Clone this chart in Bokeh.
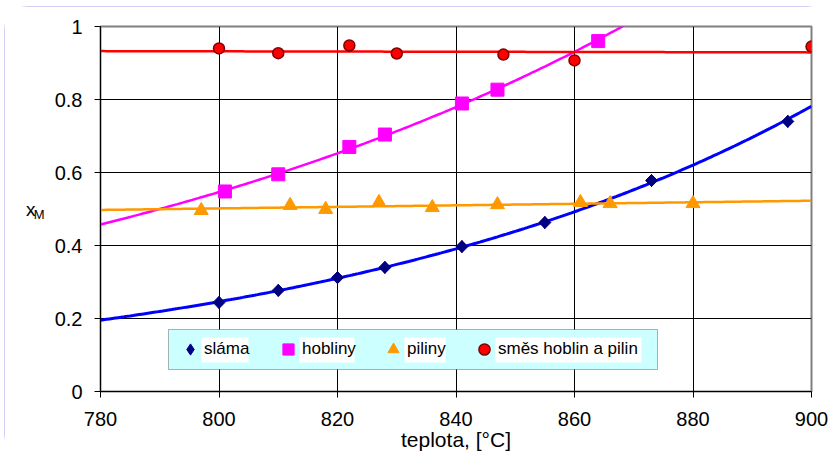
import numpy as np
from bokeh.plotting import figure
from bokeh.models import (Range1d, FixedTicker, Legend, LegendItem, BoxAnnotation,
                          LinearAxis)
from bokeh.embed import file_html
from bokeh.resources import INLINE

# ---------------- data ----------------
x_ticks = [780, 800, 820, 840, 860, 880, 900]
y_ticks = [0, 0.2, 0.4, 0.6, 0.8, 1]
y_tick_labels = ["0", "0.2", "0.4", "0.6", "0.8", "1"]

series_names = ["sláma", "hobliny", "piliny", "směs hoblin a pilin"]

slama_x = [800, 810, 820, 828, 841, 855, 873, 896]
slama_y = [0.244, 0.277, 0.312, 0.340, 0.397, 0.463, 0.578, 0.740]

hobliny_x = [801, 810, 822, 828, 841, 847, 864]
hobliny_y = [0.548, 0.595, 0.670, 0.704, 0.789, 0.827, 0.960]

piliny_x = [797, 812, 818, 827, 836, 847, 861, 866, 880]
piliny_y = [0.496, 0.510, 0.499, 0.518, 0.504, 0.512, 0.518, 0.515, 0.515]

smes_x = [800, 810, 822, 830, 848, 860, 900]
smes_y = [0.940, 0.927, 0.948, 0.926, 0.923, 0.907, 0.945]

x_label = "teplota, [°C]"
y_label_main = "x"
y_label_sub = "M"

FONT = "Liberation Sans"

# ---------------- trendlines (fitted from the data) ----------------
xs = np.linspace(x_ticks[0], x_ticks[-1], 241)


def exp_fit(x, y):
    b, a = np.polyfit(x, np.log(y), 1)
    return np.exp(a + b * xs)


def lin_fit(x, y):
    b, a = np.polyfit(x, y, 1)
    return a + b * xs


slama_fit = exp_fit(slama_x, slama_y)
hobliny_fit = exp_fit(hobliny_x, hobliny_y)
piliny_fit = lin_fit(piliny_x, piliny_y)
smes_fit = lin_fit(smes_x, smes_y)

# ---------------- figure ----------------
p = figure(width=826, height=451,
           x_range=Range1d(780, 900), y_range=Range1d(0, 1),
           output_backend="svg", toolbar_location=None,
           min_border_left=96, min_border_right=19,
           min_border_top=20, min_border_bottom=66)
p.styles = {"position": "absolute", "left": "4px", "top": "6px",
            "outline": "2px solid #bfbff2", "outline-offset": "-2px",
            "border-radius": "24px"}
p.background_fill_color = "white"
p.border_fill_color = "white"
p.outline_line_color = "#808080"
p.outline_line_width = 2

p.xaxis.ticker = FixedTicker(ticks=x_ticks)
p.yaxis.ticker = FixedTicker(ticks=y_ticks)
p.yaxis.major_label_overrides = dict(zip(y_ticks, y_tick_labels))

for ax in (p.xaxis, p.yaxis):
    ax.axis_line_color = "black"
    ax.axis_line_width = 1
    ax.major_tick_line_color = "black"
    ax.major_tick_out = 6
    ax.major_tick_in = 0
    ax.minor_tick_line_color = None
    ax.major_label_text_font = FONT
    ax.major_label_text_font_size = "20px"
    ax.major_label_text_color = "black"
p.yaxis.major_label_standoff = 12
p.xaxis.major_label_standoff = 14

p.xaxis.axis_label = x_label
p.xaxis.axis_label_text_font = FONT
p.xaxis.axis_label_text_font_size = "21px"
p.xaxis.axis_label_text_font_style = "normal"
p.xaxis.axis_label_text_color = "black"
p.xaxis.axis_label_standoff = -1

# y title "x" with subscript "M": subscript on the main axis, "x" on an outer axis
p.yaxis.axis_label = "\n" + y_label_sub
p.yaxis.axis_label_orientation = "horizontal"
p.yaxis.axis_label_text_font = FONT
p.yaxis.axis_label_text_font_size = "13px"
p.yaxis.axis_label_text_font_style = "normal"
p.yaxis.axis_label_text_color = "black"
p.yaxis.axis_label_text_line_height = 0.7
p.yaxis.axis_label_standoff = 7

outer = LinearAxis(ticker=FixedTicker(ticks=[]), axis_line_color=None,
                   major_tick_out=0, major_tick_in=0, major_label_standoff=0,
                   minor_tick_line_color=None, major_tick_line_color=None,
                   axis_label=y_label_main, axis_label_orientation="horizontal",
                   axis_label_text_font=FONT, axis_label_text_font_size="19px",
                   axis_label_text_font_style="normal",
                   axis_label_text_color="black", axis_label_standoff=-5)
p.add_layout(outer, "left")

p.grid.grid_line_color = "black"
p.grid.grid_line_width = 1

# trendlines
p.line(xs, slama_fit, line_color="#0000ff", line_width=3)
p.line(xs, hobliny_fit, line_color="#ff00ff", line_width=2.5)
p.line(xs, piliny_fit, line_color="#ff9900", line_width=2.5)
p.line(xs, smes_fit, line_color="#ff0000", line_width=2.5)

# markers (diamond glyph sits under the rotated square, used for the legend key)
r1_key = p.scatter(slama_x, slama_y, marker="diamond", size=12,
                   fill_color="#000080", line_color="#000080", line_width=1)
r1 = p.scatter(slama_x, slama_y, marker="square", size=8.5, angle=np.pi / 4,
               fill_color="#000080", line_color="#000080", line_width=1)
r2 = p.scatter(hobliny_x, hobliny_y, marker="square", size=13,
               fill_color="#ff00ff", line_color="#ff00ff", line_width=1)
r3 = p.scatter(piliny_x, piliny_y, marker="triangle", size=14,
               fill_color="#ff9900", line_color="#ff9900", line_width=1)
r4 = p.scatter(smes_x, smes_y, marker="circle", size=11,
               fill_color="#ff0000", line_color="#800000", line_width=1.5)

# legend background box and label backgrounds
p.add_layout(BoxAnnotation(left=68, right=557, bottom=22, top=62,
                           left_units="screen", right_units="screen",
                           bottom_units="screen", top_units="screen",
                           fill_color="#ccffff", fill_alpha=1,
                           line_color="black", line_width=1))
for l, r in [(101, 148), (199, 254), (304, 345), (395, 541)]:
    p.add_layout(BoxAnnotation(left=l, right=r, bottom=29, top=54,
                               left_units="screen", right_units="screen",
                               bottom_units="screen", top_units="screen",
                               fill_color="white", fill_alpha=1,
                               line_color=None))

# one legend per entry, each placed at its own position in the box
for name, rend, lx in zip(series_names, [r1_key, r2, r3, r4], [76, 174, 279, 370]):
    lg = Legend(items=[LegendItem(label=name, renderers=[rend])],
                orientation="horizontal", location=(lx, 28),
                glyph_width=28, glyph_height=28, padding=6,
                label_standoff=-8, spacing=0,
                label_text_font=FONT, label_text_font_size="17px",
                label_text_color="black",
                background_fill_alpha=0, border_line_color=None)
    p.add_layout(lg, "center")

open("out.html", "w").write(file_html(p, INLINE))
